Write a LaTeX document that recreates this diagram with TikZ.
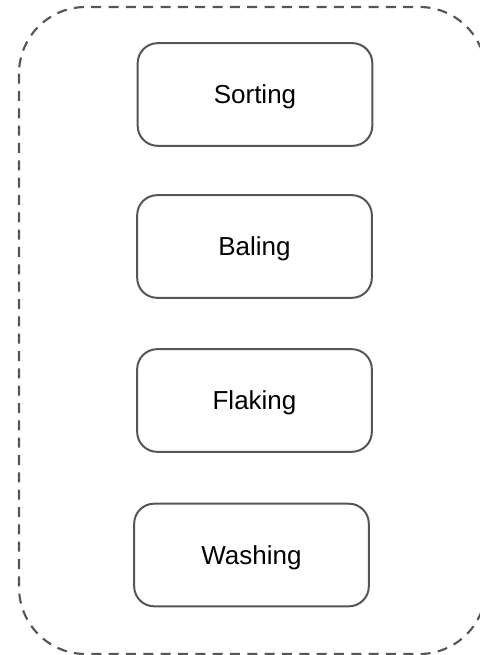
\documentclass[tikz,border=0pt]{standalone}
\usepackage{fontspec}
\setmainfont{Liberation Sans}
\usepackage{tikz}
\usetikzlibrary{shapes}

\definecolor{edgegray}{HTML}{555555}

\begin{document}
\begin{tikzpicture}[x=0.75pt,y=-0.75pt,
		stage/.style={rectangle,draw=edgegray,line width=1.5pt,rounded corners=15pt,
			minimum width=176pt,minimum height=77pt,inner sep=0pt,
			font=\fontsize{19.5}{23}\selectfont,text height=14pt,text depth=0pt},
		frame/.style={draw=edgegray,line width=1.6pt,dashed,dash pattern=on 7.5pt off 5.5pt,
			rounded corners=50pt}]

		\useasboundingbox (0,0) rectangle (479,655);

		% dashed frame round the stages, running off the right edge
		\coordinate (fnw) at (19,7);
		\coordinate (fse) at (486,654);
		\draw[frame] (fnw) rectangle (fse);

		\node[stage] (sort) at (255,94.5) {Sorting};
		\node[stage] (bale) at (254.5,246.5) {Baling};
		\node[stage] (flake) at (254.5,400.5) {Flaking};
		\node[stage] (wash) at (251.5,555) {Washing};

	\end{tikzpicture}
\end{document}
